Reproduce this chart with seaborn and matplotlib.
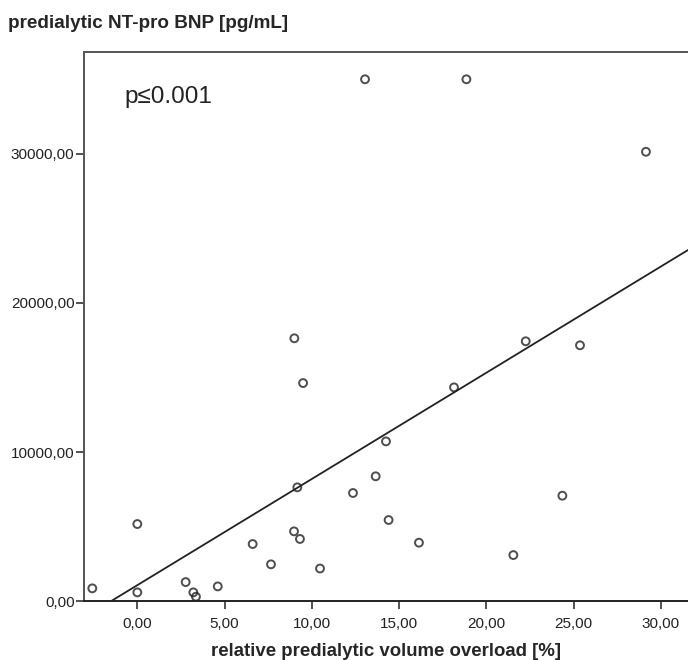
import matplotlib
matplotlib.use("Agg")
import matplotlib.pyplot as plt
import pandas as pd
import seaborn as sns

# values
volume_overload = [-2.58, 0.00, 0.00, 2.77, 3.21, 3.36, 4.61, 6.61, 7.66, 8.98,
                   9.00, 9.17, 9.32, 9.50, 10.47, 12.36, 13.05, 13.66, 14.25, 14.40,
                   16.14, 18.15, 18.86, 21.55, 22.26, 24.36, 25.37, 29.15]
nt_pro_bnp = [870, 600, 5180, 1290, 600, 310, 1000, 3840, 2480, 4690,
              17630, 7640, 4180, 14630, 2200, 7260, 34990, 8380, 10720, 5450,
              3930, 14340, 34990, 3100, 17430, 7080, 17160, 30130]

x_ticks = [0, 5, 10, 15, 20, 25, 30]
x_tick_labels = ["0,00", "5,00", "10,00", "15,00", "20,00", "25,00", "30,00"]
y_ticks = [0, 10000, 20000, 30000]
y_tick_labels = ["0,00", "10000,00", "20000,00", "30000,00"]

df = pd.DataFrame({"overload": volume_overload, "bnp": nt_pro_bnp})

sns.set_style("white")
plt.rcParams["font.family"] = ["Liberation Sans", "DejaVu Sans"]

fig = plt.figure(figsize=(6.88, 6.6), dpi=100)
ax = fig.add_axes([0.1225, 0.0889, 0.8775, 0.8328])
ax.set_xlim(-3.04, 31.56)
ax.set_ylim(0, 36840)

sns.regplot(data=df, x="overload", y="bnp", ax=ax, ci=None, truncate=False,
            scatter_kws=dict(s=32, facecolors="none", edgecolors="#222222", linewidths=1.4),
            line_kws=dict(color="#222222", lw=1.3))

ax.set_xticks(x_ticks)
ax.set_xticklabels(x_tick_labels)
ax.set_yticks(y_ticks)
ax.set_yticklabels(y_tick_labels)
ax.tick_params(axis="both", direction="out", length=6, width=1.2, color="#333333",
               labelsize=11, labelcolor="#222222", left=True, bottom=True)
ax.tick_params(axis="x", pad=5)
ax.tick_params(axis="y", pad=1)

for side in ["left", "top", "bottom"]:
    ax.spines[side].set_visible(True)
    ax.spines[side].set_color("#555555")
    ax.spines[side].set_linewidth(1.4)
ax.spines["bottom"].set_color("#222222")
ax.spines["right"].set_visible(False)

ax.set_xlabel("relative predialytic volume overload [%]", fontsize=13.4, fontweight="bold",
              labelpad=9)
ax.set_ylabel("")
fig.text(0.012, 0.965, "predialytic NT-pro BNP [pg/mL]", fontsize=13.6, fontweight="bold",
         ha="left", va="center")

ax.text(0.066, 0.918, "p\u22640.001", transform=ax.transAxes, fontsize=17.5,
        ha="left", va="center", color="#222222")

fig.savefig("out.png", dpi=100)
